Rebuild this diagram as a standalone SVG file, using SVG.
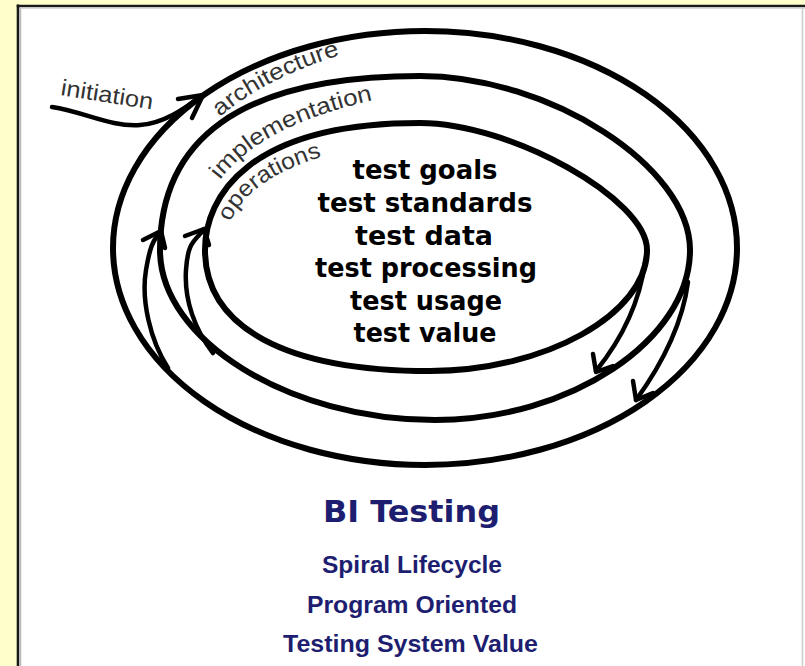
<svg xmlns="http://www.w3.org/2000/svg" width="805" height="666" viewBox="0 0 805 666">
<style>
.ring{fill:none;stroke:#000;stroke-width:6;stroke-linecap:round}
.br{fill:none;stroke:#000;stroke-width:4.5;stroke-linecap:round;stroke-linejoin:round}
.lbl{font-family:"Liberation Sans",Arial,sans-serif;font-size:23px;fill:#333}
.main{font-family:"DejaVu Sans",sans-serif;font-weight:bold;font-size:26px;fill:#000;text-anchor:middle}
.title{font-family:"DejaVu Sans",sans-serif;font-weight:bold;font-size:31px;fill:#1e1e70;text-anchor:middle}
.sub{font-family:"Liberation Sans",Arial,sans-serif;font-weight:bold;font-size:24px;fill:#1e1e70;text-anchor:middle}
</style>
<defs>
<path id="pa" d="M220,117 Q266,77 347,53"/>
<path id="pi" d="M220,180 Q264,122 384,98"/>
<path id="po" d="M230,222 Q252,174 336,153"/>
</defs>
<rect width="805" height="666" fill="#FFFFCC"/>
<rect x="18" y="6" width="787" height="660" fill="#fff"/>
<line x1="18" y1="4.5" x2="18" y2="666" stroke="#1a1a1a" stroke-width="2.6"/>
<line x1="16.7" y1="6" x2="805" y2="6" stroke="#1a1a1a" stroke-width="2.6"/>
<line x1="20.5" y1="8" x2="20.5" y2="666" stroke="#bbb" stroke-width="1.5"/>
<line x1="20" y1="8.2" x2="805" y2="8.2" stroke="#ccc" stroke-width="1.2"/>
<line x1="802.5" y1="8" x2="802.5" y2="666" stroke="#ccc" stroke-width="1.5"/>

<g id="connectors">
<path class="br" d="M52,107 C85,112 110,127 140,125 C165,123 185,108 203,95"/>
<path class="br" d="M178,99 L203,95 L192,118"/>
<path class="br" d="M168,368 C150,340 141,300 146,270 S155,240 161,230"/>
<path class="br" d="M143,240 L161,231 L165,248"/>
<path class="br" d="M213,353 C195,330 184,300 186,270 S195,242 204,229"/>
<path class="br" d="M185,236 L204,229 L209,245"/>
<path class="br" d="M645,262 C640,300 625,335 596,371"/>
<path class="br" d="M593,354 L596,372 L613,366"/>
<path class="br" d="M688,282 C683,320 665,360 636,400"/>
<path class="br" d="M633,381 L636,400 L653,393"/>
</g>

<g id="initiation">
<text class="lbl" x="60" y="95" transform="rotate(9 60 95)" textLength="93" lengthAdjust="spacingAndGlyphs">initiation</text>
</g>

<g id="ring-architecture">
<ellipse class="ring" cx="425" cy="248" rx="312" ry="217"/>
<text class="lbl"><textPath href="#pa" textLength="136" lengthAdjust="spacingAndGlyphs">architecture</textPath></text>
</g>
<g id="ring-implementation">
<path class="ring" d="M160,250 C160,143 235.4,76 420,76 C549.6,76 690,166.5 690,250 C690,340 570,420 435,420 C289,420 160,340 160,250 Z"/>
<text class="lbl"><textPath href="#pi" textLength="176" lengthAdjust="spacingAndGlyphs">implementation</textPath></text>
</g>
<g id="ring-operations">
<path class="ring" d="M205,250 C205,196.7 248,123 420,123 C510.8,123 647,199.2 647,250 C647,314 545,371 430,371 C286,371 205,327.4 205,250 Z"/>
<text class="lbl"><textPath href="#po" textLength="116" lengthAdjust="spacingAndGlyphs">operations</textPath></text>
</g>

<g id="core">
<text class="main" x="425" y="179" textLength="145" lengthAdjust="spacingAndGlyphs">test goals</text>
<text class="main" x="425" y="212" textLength="215" lengthAdjust="spacingAndGlyphs">test standards</text>
<text class="main" x="424" y="245" textLength="138" lengthAdjust="spacingAndGlyphs">test data</text>
<text class="main" x="426" y="277" textLength="222" lengthAdjust="spacingAndGlyphs">test processing</text>
<text class="main" x="426" y="310" textLength="152" lengthAdjust="spacingAndGlyphs">test usage</text>
<text class="main" x="425" y="342" textLength="143" lengthAdjust="spacingAndGlyphs">test value</text>
</g>

<g id="caption">
<text class="title" x="411.5" y="522" textLength="177" lengthAdjust="spacingAndGlyphs">BI Testing</text>
<text class="sub" x="412" y="573" textLength="180" lengthAdjust="spacingAndGlyphs">Spiral Lifecycle</text>
<text class="sub" x="412" y="613" textLength="210" lengthAdjust="spacingAndGlyphs">Program Oriented</text>
<text class="sub" x="410.5" y="652" textLength="255" lengthAdjust="spacingAndGlyphs">Testing System Value</text>
</g>
</svg>
